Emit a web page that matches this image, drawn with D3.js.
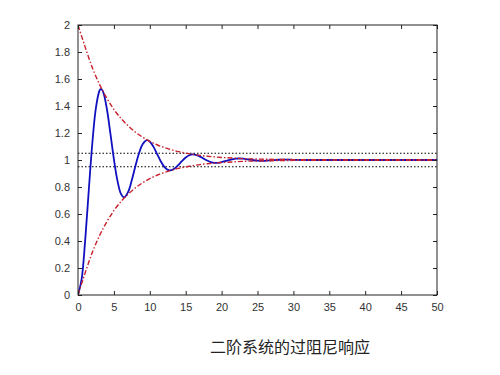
<!DOCTYPE html>
<html><head><meta charset="utf-8">
<script src="https://cdn.jsdelivr.net/npm/d3@7/dist/d3.min.js"></script>
<style>body{margin:0;background:#fff}svg{display:block}</style>
</head><body>
<script>
// Step response samples (time, output)
const respTime = [0,0.5,1,1.5,2,2.5,3,3.21,3.5,4,4.5,5,5.5,6,6.41,7,7.5,8,8.5,9,9.62,10,10.5,11,11.5,12,12.5,12.83,13.5,14,14.5,15,15.5,16,16.5,17,17.5,18,18.5,19,19.5,20,21,22,22.5,23,24,25,26,27,28,29,30,32,35,40,45,50];
const respValue = [0,0.115,0.405,0.775,1.128,1.388,1.515,1.527,1.505,1.385,1.201,1.006,0.845,0.747,0.723,0.766,0.852,0.956,1.050,1.117,1.147,1.136,1.099,1.046,0.993,0.951,0.927,0.923,0.939,0.964,0.993,1.018,1.035,1.041,1.036,1.025,1.010,0.996,0.985,0.979,0.979,0.984,0.999,1.010,1.011,1.010,1.002,0.995,0.994,0.998,1.002,1.003,1.001,1.0,1.0,1.0,1.0,1.0];
// Envelope curves
const envTime = [0,1,2,3,4,5,6,7,8,9,10,11,12,13,14,15,16,17,18,19,20,22,24,26,28,30,35,40,45,50];
const envUpper = [2.0,1.836,1.684,1.560,1.459,1.375,1.307,1.252,1.206,1.169,1.138,1.113,1.093,1.076,1.062,1.051,1.042,1.034,1.028,1.023,1.019,1.013,1.008,1.006,1.004,1.003,1.001,1.0,1.0,1.0];
const envLower = [0.0,0.164,0.316,0.440,0.541,0.625,0.693,0.748,0.794,0.831,0.862,0.887,0.907,0.924,0.938,0.949,0.958,0.966,0.972,0.977,0.981,0.987,0.992,0.994,0.996,0.997,0.999,1.0,1.0,1.0];
// ±5% band
const bandLevels = [1.05, 0.95];
const xTicks = [0,5,10,15,20,25,30,35,40,45,50];
const yTicks = [0,0.2,0.4,0.6,0.8,1,1.2,1.4,1.6,1.8,2];
const title = "二阶系统的过阻尼响应";

const W = 500, H = 375;
const m = {l:78, r:437, t:25, b:295};
const svg = d3.select("body").append("svg").attr("width", W).attr("height", H);
const x = d3.scaleLinear().domain([0,50]).range([m.l, m.r]);
const y = d3.scaleLinear().domain([0,2]).range([m.b, m.t]);

svg.append("defs").append("clipPath").attr("id","clip")
  .append("rect").attr("x",m.l).attr("y",m.t).attr("width",m.r-m.l).attr("height",m.b-m.t);

const g = svg.append("g").attr("clip-path","url(#clip)");

// band lines
g.selectAll(".band").data(bandLevels).enter().append("line")
  .attr("x1", x(0)).attr("x2", x(50))
  .attr("y1", d=>y(d)).attr("y2", d=>y(d))
  .attr("stroke","#000").attr("stroke-width",1.2).attr("stroke-dasharray","1.5,2");

const respLine = d3.line().x(d=>x(d[0])).y(d=>y(d[1])).curve(d3.curveCatmullRom.alpha(0.5));
g.append("path").datum(respTime.map((t,i)=>[t,respValue[i]]))
  .attr("d", respLine).attr("fill","none")
  .attr("stroke","#1010c0").attr("stroke-width",1.8);

const envLine = d3.line().x(d=>x(d[0])).y(d=>y(d[1])).curve(d3.curveMonotoneX);
[envUpper, envLower].forEach(arr=>{
  g.append("path").datum(envTime.map((t,i)=>[t,arr[i]]))
    .attr("d", envLine).attr("fill","none")
    .attr("stroke","#c8202c").attr("stroke-width",1.4)
    .attr("stroke-dasharray","5,2,1.5,2");
});

// frame
svg.append("rect").attr("x",m.l).attr("y",m.t).attr("width",m.r-m.l).attr("height",m.b-m.t)
  .attr("fill","none").attr("stroke","#222").attr("stroke-width",1);

const font = "Liberation Sans, Arial, sans-serif";
const xb = svg.append("g").attr("transform",`translate(0,${m.b})`)
  .call(d3.axisBottom(x).tickValues(xTicks).tickSizeInner(-4).tickSizeOuter(0).tickPadding(8).tickFormat(d3.format("d")));
const xt = svg.append("g").attr("transform",`translate(0,${m.t})`)
  .call(d3.axisTop(x).tickValues(xTicks).tickSizeInner(-4).tickSizeOuter(0).tickFormat(""));
const yl = svg.append("g").attr("transform",`translate(${m.l},0)`)
  .call(d3.axisLeft(y).tickValues(yTicks).tickSizeInner(-4).tickSizeOuter(0).tickPadding(8).tickFormat(d=>String(+d.toFixed(1))));
const yr = svg.append("g").attr("transform",`translate(${m.r},0)`)
  .call(d3.axisRight(y).tickValues(yTicks).tickSizeInner(-4).tickSizeOuter(0).tickFormat(""));
[xb,xt,yl,yr].forEach(a=>{
  a.select(".domain").remove();
  a.selectAll("line").attr("stroke","#222");
  a.selectAll("text").attr("font-family",font).attr("font-size","11px").attr("fill","#333");
});

svg.append("text").attr("x",290).attr("y",353).attr("text-anchor","middle")
  .attr("font-family","Noto Sans CJK SC, sans-serif").attr("font-size","16px").attr("fill","#222")
  .text(title);
</script>
</body></html>
